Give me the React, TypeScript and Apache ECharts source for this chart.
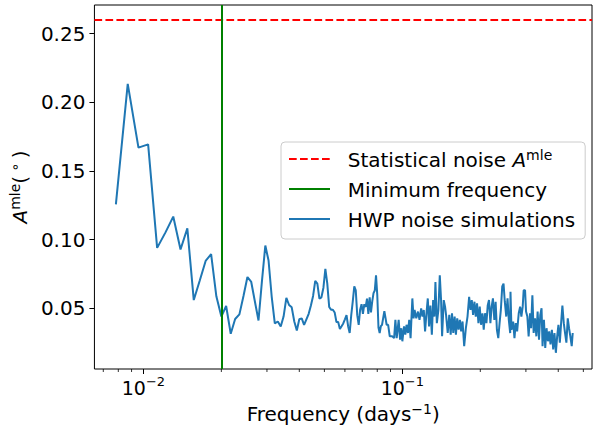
import React, { useEffect, useRef } from "react";
import * as echarts from "echarts";

const freqs = [
  0.00783, 0.0087, 0.00957, 0.01043, 0.0113, 0.01217, 0.01304, 0.01391, 0.01478, 0.01565,
  0.01652, 0.01739, 0.01826, 0.01913, 0.02, 0.02087, 0.02174, 0.02261, 0.02348, 0.02435,
  0.02522, 0.02609, 0.02696, 0.02783, 0.0287, 0.02957, 0.03043, 0.0313, 0.03217, 0.03304,
  0.03391, 0.03478, 0.03565, 0.03652, 0.03739, 0.03826, 0.03913, 0.04, 0.04087, 0.04174,
  0.04261, 0.04348, 0.04435, 0.04522, 0.04609, 0.04696, 0.04783, 0.0487, 0.04957, 0.05043,
  0.0513, 0.05217, 0.05304, 0.05391, 0.05478, 0.05565, 0.05652, 0.05739, 0.05826, 0.05913,
  0.06, 0.06087, 0.06174, 0.06261, 0.06348, 0.06435, 0.06522, 0.06609, 0.06696, 0.06783,
  0.0687, 0.06957, 0.07043, 0.0713, 0.07217, 0.07304, 0.07391, 0.07478, 0.07565, 0.07652,
  0.07739, 0.07826, 0.07913, 0.08, 0.08087, 0.08174, 0.08261, 0.08348, 0.08435, 0.08522,
  0.08609, 0.08696, 0.08815, 0.0894, 0.09131, 0.09294, 0.09401, 0.09509, 0.09679, 0.09799,
  0.0991, 0.1, 0.1015, 0.1027, 0.1038, 0.1051, 0.1063, 0.1076, 0.1093, 0.1105,
  0.1115, 0.1132, 0.1149, 0.1165, 0.1182, 0.1196, 0.121, 0.1224, 0.1239, 0.1254,
  0.1268, 0.1283, 0.13, 0.1315, 0.133, 0.1342, 0.1359, 0.1378, 0.1395, 0.1411,
  0.1424, 0.1445, 0.1462, 0.1475, 0.1497, 0.1518, 0.1537, 0.1555, 0.1573, 0.1592,
  0.161, 0.1629, 0.1649, 0.1668, 0.1687, 0.1708, 0.1733, 0.1759, 0.1785, 0.1811,
  0.1833, 0.1854, 0.1876, 0.1899, 0.1921, 0.1943, 0.1967, 0.199, 0.2013, 0.2038,
  0.2062, 0.2086, 0.2112, 0.2136, 0.2161, 0.2188, 0.2212, 0.2238, 0.2266, 0.2292,
  0.2318, 0.2347, 0.2374, 0.2401, 0.2431, 0.2459, 0.2487, 0.2519, 0.2548, 0.2577,
  0.2609, 0.2616, 0.2639, 0.2679, 0.271, 0.2741, 0.2775, 0.2815, 0.285, 0.2882,
  0.2916, 0.2941, 0.2978, 0.3004, 0.3039, 0.3074, 0.3112, 0.3141, 0.3178, 0.3214,
  0.3254, 0.3292, 0.333, 0.3371, 0.3409, 0.3448, 0.3479, 0.3522, 0.3563, 0.3604,
  0.3649, 0.3691, 0.3734, 0.378, 0.3824, 0.3868, 0.3916, 0.3961, 0.4007, 0.4057,
  0.4103, 0.415, 0.4202, 0.425, 0.43, 0.4353, 0.4403, 0.4454, 0.4509, 0.4549,
];

const amps = [
  0.1257, 0.2134, 0.167, 0.1694, 0.094, 0.1053, 0.1168, 0.0928, 0.1082, 0.056,
  0.0704, 0.0845, 0.0894, 0.0587, 0.044, 0.0517, 0.0315, 0.0422, 0.0456, 0.059,
  0.0728, 0.0692, 0.0548, 0.0411, 0.07, 0.0957, 0.0848, 0.0584, 0.0391, 0.0404,
  0.0368, 0.044, 0.0576, 0.0524, 0.0507, 0.0404, 0.0339, 0.042, 0.0427, 0.038,
  0.042, 0.046, 0.052, 0.059, 0.07, 0.068, 0.057, 0.058, 0.065, 0.0788,
  0.068, 0.051, 0.049, 0.049, 0.047, 0.04, 0.04, 0.035, 0.037, 0.039,
  0.042, 0.045, 0.037, 0.032, 0.045, 0.055, 0.066, 0.063, 0.045, 0.038,
  0.049, 0.053, 0.046, 0.053, 0.051, 0.057, 0.046, 0.058, 0.047, 0.055,
  0.061, 0.063, 0.074, 0.06, 0.036, 0.032, 0.037, 0.038, 0.043, 0.048,
  0.043, 0.038, 0.038, 0.0296, 0.0296, 0.0283, 0.0416, 0.0283, 0.0416, 0.0272,
  0.0355, 0.026, 0.0368, 0.0308, 0.038, 0.032, 0.0416, 0.0283, 0.0572, 0.0427,
  0.0488, 0.0427, 0.0476, 0.0416, 0.05, 0.044, 0.0488, 0.0332, 0.0464, 0.0572,
  0.0368, 0.052, 0.0308, 0.056, 0.044, 0.0692, 0.0392, 0.0488, 0.074, 0.056,
  0.0296, 0.056, 0.0512, 0.0452, 0.032, 0.0452, 0.0308, 0.0464, 0.032, 0.044,
  0.0308, 0.0427, 0.0344, 0.0416, 0.0332, 0.0404, 0.0224, 0.0355, 0.044, 0.0584,
  0.0488, 0.056, 0.0452, 0.0548, 0.044, 0.0536, 0.0392, 0.0512, 0.038, 0.0464,
  0.0344, 0.0464, 0.0392, 0.052, 0.056, 0.0392, 0.0512, 0.0572, 0.0416, 0.0548,
  0.0344, 0.0283, 0.0392, 0.0488, 0.066, 0.068, 0.0548, 0.044, 0.0572, 0.0416,
  0.032, 0.062, 0.0344, 0.0404, 0.0283, 0.0392, 0.0332, 0.0464, 0.0512, 0.044,
  0.0512, 0.0632, 0.0632, 0.0476, 0.044, 0.0296, 0.0464, 0.0355, 0.0594, 0.032,
  0.0427, 0.0296, 0.0476, 0.0272, 0.0452, 0.05, 0.0224, 0.0416, 0.0212, 0.0355,
  0.026, 0.0332, 0.0238, 0.0344, 0.02, 0.032, 0.0176, 0.0296, 0.038, 0.025,
  0.0392, 0.052, 0.0392, 0.032, 0.025, 0.0427, 0.0355, 0.0296, 0.0224, 0.032,
];

const statNoise = 0.259;
const minFreq = 0.02;
const xMin = 0.00647;
const xMax = 0.54;
const yMin = 0.0058;
const yMax = 0.2709;
const xMajorTicks = [0.01, 0.1];
const xMinorTicks = [0.007, 0.008, 0.009, 0.02, 0.03, 0.04, 0.05, 0.06, 0.07, 0.08, 0.09, 0.2, 0.3, 0.4, 0.5];
const yTicks = [0.05, 0.1, 0.15, 0.2, 0.25];
const seriesNames = ["Statistical noise", "Minimum frequency", "HWP noise simulations"];

const F = "DejaVu Sans";
const mkRich = (size: number, supSize: number) => ({
  b: { fontFamily: F, fontSize: size, color: "#000", lineHeight: 22, verticalAlign: "bottom" },
  s: { fontFamily: F, fontSize: supSize, color: "#000", lineHeight: 11, verticalAlign: "top" },
  it: { fontFamily: F, fontSize: size, color: "#000", lineHeight: 22, verticalAlign: "bottom", fontStyle: "italic" },
});
const tickRich = mkRich(19, 13);
const titleRich = mkRich(20, 14);

export default function App() {
  const ref = useRef<HTMLDivElement>(null);
  useEffect(() => {
    const chart = echarts.init(ref.current!, null, { renderer: "svg" });
    const lineData = freqs.map((f, i) => [f, amps[i]]);
    const option: any = {
      animation: false,
      backgroundColor: "#fff",
      grid: { left: 91, right: 1, top: 5, bottom: 56, show: true, borderColor: "#000", borderWidth: 1 },
      xAxis: {
        type: "log",
        logBase: 10,
        min: xMin,
        max: xMax,
        axisLine: { show: false },
        splitLine: { show: false },
        axisTick: { show: true, customValues: xMajorTicks, length: 5, lineStyle: { color: "#000", width: 1 } },
        axisLabel: {
          customValues: xMajorTicks,
          margin: 6,
          formatter: (v: number) => `{b|10}{s|−${-Math.round(Math.log10(v))}}`,
          rich: tickRich,
        },
        name: "{b|Frequency (days}{s|−1}{b|)}",
        nameLocation: "middle",
        nameGap: 33,
        nameTextStyle: { rich: titleRich },
      },
      yAxis: {
        type: "value",
        min: yMin,
        max: yMax,
        axisLine: { show: false },
        splitLine: { show: false },
        axisTick: { show: true, customValues: yTicks, length: 5, lineStyle: { color: "#000", width: 1 } },
        axisLabel: {
          customValues: yTicks,
          margin: 9,
          fontFamily: F,
          fontSize: 20,
          color: "#000",
          formatter: (v: number) => v.toFixed(2),
        },
        name: "{it|A}{s|mle}{b|(}{s| ∘ }{b|)}",
        nameLocation: "middle",
        nameGap: 56,
        nameTextStyle: { rich: titleRich },
      },
      legend: {
        data: seriesNames,
        orient: "vertical",
        left: 281,
        top: 142,
        padding: [6, 10, 9, 7],
        itemGap: 10,
        itemWidth: 41,
        itemHeight: 14,
        backgroundColor: "rgba(255,255,255,0.8)",
        borderColor: "#cccccc",
        borderWidth: 1,
        borderRadius: 4,
        selectedMode: false,
        itemStyle: { opacity: 0 },
        formatter: (name: string) =>
          name === "Statistical noise" ? "{b|  Statistical noise }{it|A}{s|mle}" : `{b|  ${name}}`,
        textStyle: { rich: titleRich, fontFamily: F, fontSize: 20, color: "#000" },
      },
      series: [
        {
          name: "Statistical noise",
          type: "line",
          data: [],
          symbol: "none",
          color: "#ff0000",
          lineStyle: { color: "#ff0000", width: 2, type: [7.7, 3.3] },
          markLine: {
            silent: true,
            symbol: ["none", "none"],
            label: { show: false },
            lineStyle: { color: "#ff0000", width: 2, type: [7.7, 3.3] },
            emphasis: { disabled: true },
            data: [{ yAxis: statNoise }],
          },
        },
        {
          name: "Minimum frequency",
          type: "line",
          data: [],
          symbol: "none",
          color: "#008000",
          lineStyle: { color: "#008000", width: 2, type: "solid" },
          markLine: {
            silent: true,
            symbol: ["none", "none"],
            label: { show: false },
            lineStyle: { color: "#008000", width: 2, type: "solid" },
            emphasis: { disabled: true },
            data: [{ xAxis: minFreq }],
          },
        },
        {
          name: "HWP noise simulations",
          type: "line",
          data: lineData,
          symbol: "none",
          color: "#1f77b4",
          lineStyle: { color: "#1f77b4", width: 2 },
          emphasis: { disabled: true },
          z: 3,
        },
        {
          name: "minorTicks",
          type: "scatter",
          data: xMinorTicks.map((v) => [v, yMin]),
          symbol: "rect",
          symbolSize: [1, 3],
          symbolOffset: [0, 1.5],
          itemStyle: { color: "#000" },
          clip: false,
          silent: true,
        },
      ],
    };
    chart.setOption(option);
    return () => chart.dispose();
  }, []);
  return <div ref={ref} style={{ position: "fixed", left: 0, top: 0, width: 593, height: 429 }} />;
}
